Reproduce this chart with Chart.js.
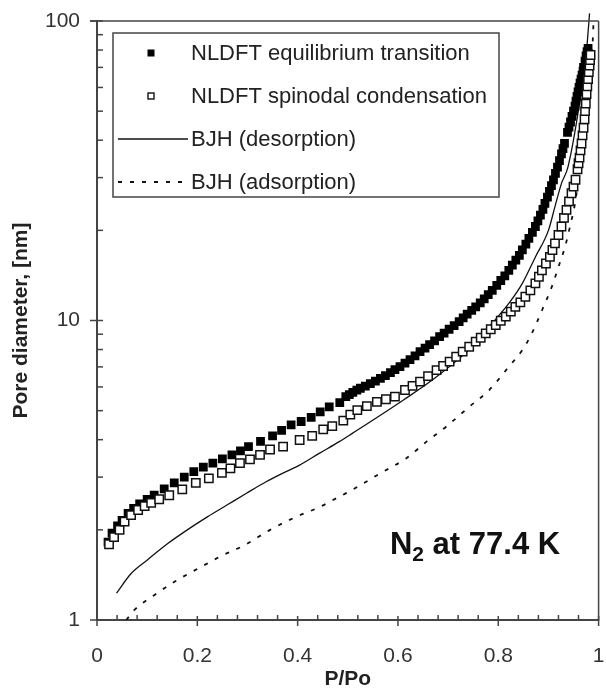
<!DOCTYPE html>
<html><head><meta charset="utf-8">
<script src="https://cdn.jsdelivr.net/npm/chart.js@4"></script>
<style>html,body{margin:0;padding:0;background:#fff;}canvas{display:block;}</style>
</head><body>
<canvas id="c" width="606" height="690"></canvas>
<script>
// ---- data ----
const seriesLabels = ['NLDFT equilibrium transition','NLDFT spinodal condensation','BJH (desorption)','BJH (adsorption)'];

const eqX = [0.022,0.030,0.041,0.050,0.062,0.073,0.085,0.100,0.114,0.134,0.154,0.174,0.193,0.212,0.231,0.250,0.269,0.286,0.302,0.326,0.350,0.368,0.387,0.407,0.427,0.445,0.463,0.484,0.496,0.503,0.510,0.518,0.525,0.535,0.545,0.555,0.565,0.575,0.585,0.594,0.604,0.614,0.624,0.634,0.644,0.654,0.663,0.673,0.683,0.692,0.702,0.712,0.722,0.730,0.738,0.747,0.755,0.764,0.772,0.780,0.788,0.797,0.805,0.813,0.821,0.828,0.835,0.842,0.848,0.855,0.861,0.868,0.874,0.879,0.884,0.889,0.893,0.898,0.902,0.906,0.910,0.914,0.918,0.922,0.926,0.929,0.932,0.938,0.941,0.944,0.947,0.950,0.953,0.955,0.957,0.959,0.961,0.963,0.965,0.967,0.969,0.970,0.973,0.975,0.977,0.979];
const eqY = [1.82,1.95,2.06,2.15,2.27,2.36,2.44,2.53,2.61,2.74,2.87,3.00,3.13,3.24,3.34,3.45,3.56,3.67,3.79,3.95,4.12,4.30,4.48,4.60,4.75,4.95,5.15,5.32,5.57,5.66,5.75,5.85,5.94,6.04,6.15,6.28,6.41,6.55,6.70,6.85,7.01,7.20,7.40,7.62,7.87,8.08,8.30,8.55,8.83,9.08,9.35,9.62,9.91,10.2,10.5,10.8,11.1,11.45,11.8,12.2,12.6,13.1,13.6,14.1,14.7,15.3,15.9,16.5,17.2,18.0,18.8,19.7,20.6,21.5,22.5,23.5,24.6,25.8,27.0,28.2,29.5,31.0,32.5,34.2,36.0,37.5,39.0,42.5,44.2,46.0,48.0,50.0,52.0,54.0,56.0,58.0,60.0,62.0,64.0,66.0,68.0,70.0,73.5,76.5,79.0,81.0];

const spX = [0.024,0.034,0.045,0.055,0.068,0.082,0.095,0.108,0.124,0.144,0.170,0.197,0.223,0.249,0.266,0.285,0.305,0.325,0.345,0.371,0.404,0.429,0.451,0.469,0.491,0.505,0.519,0.538,0.558,0.576,0.594,0.614,0.629,0.644,0.660,0.677,0.690,0.703,0.716,0.729,0.742,0.755,0.765,0.775,0.785,0.795,0.805,0.815,0.825,0.834,0.844,0.854,0.864,0.874,0.881,0.887,0.895,0.903,0.908,0.913,0.920,0.926,0.931,0.936,0.941,0.946,0.950,0.954,0.958,0.960,0.962,0.964,0.966,0.968,0.970,0.972,0.973,0.9745,0.976,0.9775,0.979,0.9805,0.982,0.983,0.984];
const spY = [1.79,1.89,2.00,2.13,2.24,2.33,2.40,2.46,2.53,2.61,2.73,2.87,2.97,3.10,3.21,3.34,3.44,3.56,3.71,3.79,3.99,4.12,4.33,4.44,4.63,4.85,5.02,5.18,5.35,5.46,5.57,5.86,6.05,6.25,6.52,6.83,7.05,7.29,7.57,7.87,8.17,8.50,8.76,9.06,9.35,9.66,9.98,10.3,10.7,11.1,11.5,12.0,12.6,13.3,14.0,14.7,15.5,16.3,17.2,18.1,19.3,20.6,22.0,23.4,25.0,26.6,28.0,29.5,32.0,33.5,35.0,37.0,39.0,41.5,44.0,47.0,50.0,53.0,57.0,60.5,64.0,67.5,71.0,74.0,77.0];

const desX = [0.039,0.068,0.101,0.141,0.180,0.220,0.259,0.298,0.338,0.377,0.404,0.443,0.483,0.509,0.611,0.677,0.755,0.782,0.821,0.848,0.874,0.900,0.913,0.926,0.939,0.963,0.976,0.982];
const desY = [1.23,1.43,1.59,1.80,2.00,2.21,2.42,2.65,2.90,3.13,3.29,3.60,3.94,4.20,5.43,6.49,8.39,9.53,11.4,13.3,16.3,20.0,24.0,28.7,32.6,54.5,80.0,106];

const adsX = [0.0585,0.072,0.114,0.157,0.203,0.249,0.295,0.345,0.397,0.443,0.483,0.502,0.565,0.617,0.657,0.696,0.742,0.782,0.821,0.848,0.867,0.887,0.907,0.920,0.933,0.943,0.953,0.959,0.970,0.978,0.985,0.990];
const adsY = [1.00,1.07,1.21,1.35,1.49,1.64,1.78,2.00,2.21,2.38,2.58,2.68,3.09,3.47,3.94,4.42,5.15,5.86,7.01,7.97,9.06,10.8,13.0,15.1,17.6,20.6,24.6,28.7,36,48,65,100];

const xTickValues = [0,0.2,0.4,0.6,0.8,1];
const xTickLabels = ['0','0.2','0.4','0.6','0.8','1'];
const yTickValues = [1,10,100];
const yTickLabels = ['1','10','100'];
const xTitle = 'P/Po';
const yTitle = 'Pore diameter, [nm]';
const noteMain = 'N', noteSub = '2', noteRest = ' at 77.4 K';

// ---- helpers ----
function pts(xs, ys){ return xs.map((x,i)=>({x:x, y:ys[i]})); }
const FONT = 'Liberation Sans, Arial, sans-serif';
const INK = '#222';

function seg(ctx,x1,y1,x2,y2){ ctx.beginPath(); ctx.moveTo(x1,y1); ctx.lineTo(x2,y2); ctx.stroke(); }

const decor = {
  id:'decor',
  afterDraw(chart){
    const ctx = chart.ctx, ca = chart.chartArea, xs = chart.scales.x, ys = chart.scales.y;
    ctx.save();
    ctx.strokeStyle = '#444'; ctx.lineWidth = 1.5; ctx.setLineDash([]);
    // frame top & right
    seg(ctx, ca.left-7, ca.top, ca.right, ca.top);
    seg(ctx, ca.right, ca.top, ca.right, ca.bottom+1);
    // x major ticks
    xTickValues.forEach(v=>{ const p = xs.getPixelForValue(v); seg(ctx,p,ca.bottom-4,p,ca.bottom+6); });
    // x minor ticks
    for(let k=1;k<25;k++){ if(k%5===0) continue; const p = xs.getPixelForValue(k*0.04); seg(ctx,p,ca.bottom-5,p,ca.bottom); }
    // y major ticks
    yTickValues.forEach(v=>{ const p = ys.getPixelForValue(v); seg(ctx,ca.left-7,p,ca.left+6,p); });
    // y minor ticks
    [1,10].forEach(d=>{ for(let m=2;m<10;m++){ const p = ys.getPixelForValue(m*d); seg(ctx,ca.left,p,ca.left+6,p); } });

    // legend box
    const L = ca.left+16, T = ca.top+12, W = 386, H = 164;
    ctx.lineWidth = 1.5; ctx.strokeStyle = '#444';
    ctx.strokeRect(L, T, W, H);
    ctx.font = '22px ' + FONT; ctx.fillStyle = INK; ctx.textBaseline = 'middle'; ctx.textAlign = 'left';
    const rows = [T+20, T+63, T+106, T+149];
    const mx = L+38;
    chart.data.datasets.forEach((ds,i)=>{
      const ry = rows[i];
      if(i===0){ ctx.fillStyle='#000'; ctx.fillRect(mx-3.5, ry-3.5, 7, 7); }
      else if(i===1){ ctx.fillStyle='#fff'; ctx.fillRect(mx-3,ry-3,6,6); ctx.strokeStyle='#111'; ctx.lineWidth=1.4; ctx.strokeRect(mx-3,ry-3,6,6); }
      else {
        ctx.strokeStyle='#111'; ctx.lineWidth = ds.borderWidth; ctx.setLineDash(ds.borderDash||[]);
        seg(ctx, L+5, ry, L+75, ry); ctx.setLineDash([]);
      }
      ctx.fillStyle = INK;
      ctx.fillText(ds.label, L+78, ry+1);
    });

    // annotation N2 at 77.4 K
    const ax = xs.getPixelForValue(0.584), ay = ys.getPixelForValue(1.66);
    ctx.textBaseline = 'alphabetic'; ctx.fillStyle = '#111';
    ctx.font = 'bold 31px ' + FONT;
    ctx.fillText(noteMain, ax, ay);
    let w = ctx.measureText(noteMain).width;
    ctx.font = 'bold 21px ' + FONT;
    ctx.fillText(noteSub, ax+w, ay+7);
    w += ctx.measureText(noteSub).width;
    ctx.font = 'bold 31px ' + FONT;
    ctx.fillText(noteRest, ax+w, ay);
    ctx.restore();
  }
};

new Chart(document.getElementById('c').getContext('2d'), {
  type:'scatter',
  data:{ datasets:[
    { label:seriesLabels[0], data:pts(eqX,eqY), pointStyle:'rect', pointRadius:6.2, backgroundColor:'#000', borderColor:'#000', borderWidth:0, showLine:false, order:1 },
    { label:seriesLabels[1], data:pts(spX,spY), pointStyle:'rect', pointRadius:5.9, backgroundColor:'#fff', borderColor:'#111', borderWidth:1.5, showLine:false, order:0 },
    { label:seriesLabels[2], data:pts(desX,desY), showLine:true, pointRadius:0, borderColor:'#111', borderWidth:1.3, cubicInterpolationMode:'monotone', order:2, clip:{left:0,top:12,right:0,bottom:0} },
    { label:seriesLabels[3], data:pts(adsX,adsY), showLine:true, pointRadius:0, borderColor:'#111', borderWidth:1.8, borderDash:[4,8], cubicInterpolationMode:'monotone', order:3, clip:{left:0,top:8,right:4,bottom:0} }
  ]},
  options:{
    responsive:false, animation:false, devicePixelRatio:1, events:[],
    layout:{ padding:{ top:21, right:2, left:0, bottom:0 } },
    plugins:{ legend:{display:false}, tooltip:{enabled:false} },
    scales:{
      x:{
        type:'linear', min:0, max:1,
        afterBuildTicks:s=>{ s.ticks = xTickValues.map(v=>({value:v})); },
        ticks:{ callback:(v,i)=>xTickLabels[i], font:{family:FONT,size:21}, color:'#333', padding:24, maxRotation:0, autoSkip:false },
        grid:{ display:true, drawOnChartArea:false, drawTicks:false },
        border:{ display:true, color:'#444', width:2 },
        title:{ display:true, text:xTitle, color:INK, font:{family:FONT,size:21,weight:'bold',lineHeight:1}, padding:{top:0,bottom:0} },
        afterFit:s=>{ s.height = 70; s.paddingLeft = 0; s.paddingRight = 0; }
      },
      y:{
        type:'logarithmic', min:1, max:100,
        afterBuildTicks:s=>{ s.ticks = yTickValues.map(v=>({value:v})); },
        ticks:{ callback:(v,i)=>yTickLabels[i], font:{family:FONT,size:21}, color:'#333', padding:17, autoSkip:false },
        grid:{ display:true, drawOnChartArea:false, drawTicks:false },
        border:{ display:true, color:'#444', width:2 },
        title:{ display:true, text:yTitle, color:INK, font:{family:FONT,size:21,weight:'bold',lineHeight:1.2}, padding:{top:9,bottom:0} },
        afterFit:s=>{ s.width = 97; s.paddingTop = 0; s.paddingBottom = 0; }
      }
    }
  },
  plugins:[decor]
});
</script>
</body></html>
